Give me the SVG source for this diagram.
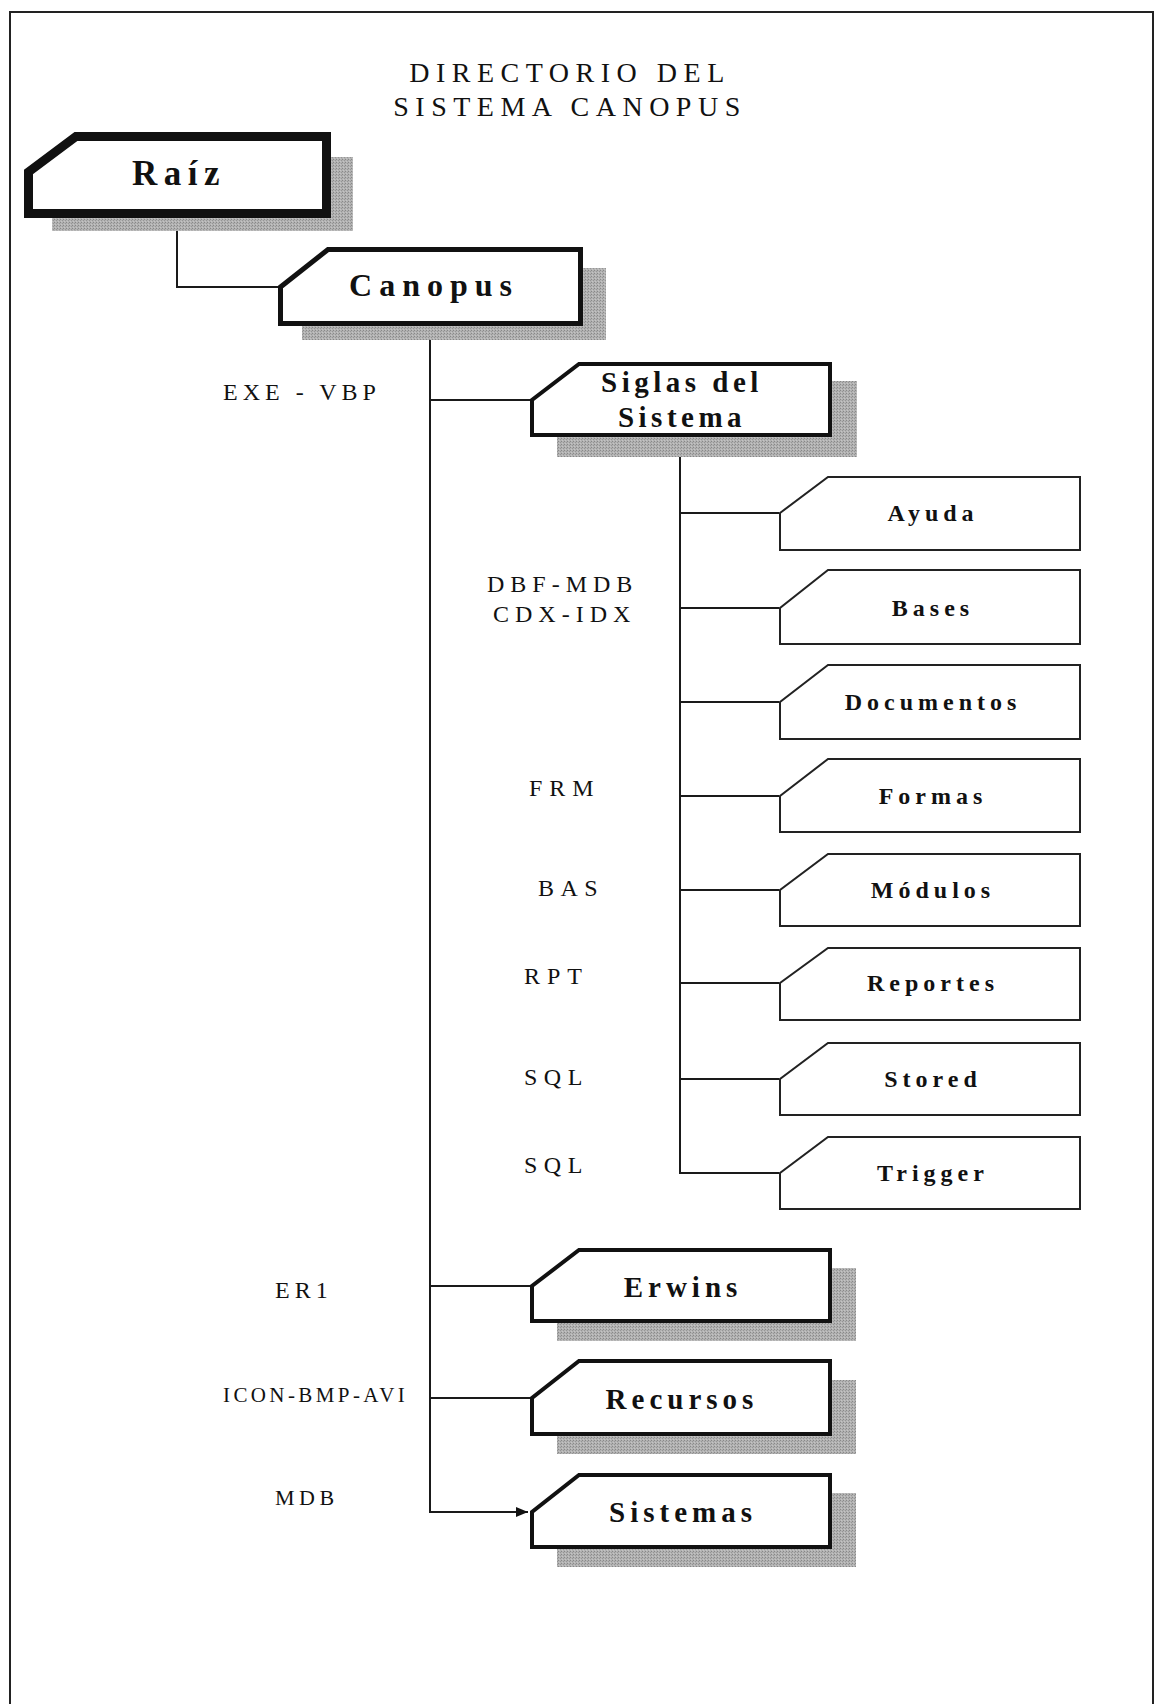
<svg xmlns="http://www.w3.org/2000/svg" width="1159" height="1704" viewBox="0 0 1159 1704">
<style>
.frame{fill:none;stroke:#222;stroke-width:2}
.shadow{fill:url(#dots)}
.big{fill:#fff;stroke:#111;stroke-width:4;stroke-linejoin:miter}
.small{fill:#fff;stroke:#222;stroke-width:2}
.conn{fill:none;stroke:#1a1a1a;stroke-width:2}
.lbl{font-family:"Liberation Serif","Times New Roman",serif;font-weight:bold;fill:#111;text-anchor:middle}
.side{font-family:"Liberation Serif","Times New Roman",serif;fill:#111}
.title{font-family:"Liberation Serif","Times New Roman",serif;fill:#111;font-size:28px;letter-spacing:6.5px;text-anchor:middle}
.sl{font-size:24px;letter-spacing:5px}
.bl{font-size:29px;letter-spacing:5px}
</style>
<defs>
<pattern id="dots" width="3" height="3" patternUnits="userSpaceOnUse">
<rect width="3" height="3" fill="#b2b2b2"/>
<rect x="0" y="0" width="1" height="1" fill="#888"/>
<rect x="2" y="1" width="1" height="1" fill="#969696"/>
<rect x="1" y="2" width="1" height="1" fill="#c4c4c4"/>
</pattern>
<marker id="arr" markerWidth="12" markerHeight="10" refX="12" refY="5" orient="auto" markerUnits="userSpaceOnUse">
<path d="M0,0 L12,5 L0,10 Z" fill="#111"/>
</marker>
</defs>
<rect width="1159" height="1704" fill="#fff"/>
<path class="frame" d="M10,1704 L10,12 L1153,12 L1153,1704"/>
<g id="title">
<text class="title" x="570" y="82">DIRECTORIO DEL</text>
<text class="title" x="570" y="116">SISTEMA CANOPUS</text>
</g>
<g id="connectors">
<path class="conn" d="M177,218 L177,287 L278,287"/>
<path class="conn" d="M430,326 L430,1512 L528,1512" marker-end="url(#arr)"/>
<path class="conn" d="M430,400 L530,400"/>
<path class="conn" d="M430,1286 L530,1286"/>
<path class="conn" d="M430,1398 L530,1398"/>
<path class="conn" d="M680,437 L680,1173 L779,1173"/>
<path class="conn" d="M680,513 L779,513"/>
<path class="conn" d="M680,608 L779,608"/>
<path class="conn" d="M680,702 L779,702"/>
<path class="conn" d="M680,796 L779,796"/>
<path class="conn" d="M680,890 L779,890"/>
<path class="conn" d="M680,983 L779,983"/>
<path class="conn" d="M680,1079 L779,1079"/>
</g>
<g id="labels">
<text class="side" x="223" y="400" style="font-size:24px;letter-spacing:5px">EXE - VBP</text>
<text class="side" x="487" y="592" style="font-size:24px;letter-spacing:6px">DBF-MDB</text>
<text class="side" x="493" y="622" style="font-size:24px;letter-spacing:6px">CDX-IDX</text>
<text class="side" x="529" y="796" style="font-size:24px;letter-spacing:7px">FRM</text>
<text class="side" x="538" y="896" style="font-size:24px;letter-spacing:6.5px">BAS</text>
<text class="side" x="524" y="984" style="font-size:24px;letter-spacing:7px">RPT</text>
<text class="side" x="524" y="1085" style="font-size:24px;letter-spacing:6.5px">SQL</text>
<text class="side" x="524" y="1173" style="font-size:24px;letter-spacing:6.5px">SQL</text>
<text class="side" x="275" y="1298" style="font-size:24px;letter-spacing:5px">ER1</text>
<text class="side" x="223" y="1402" style="font-size:21px;letter-spacing:3.4px">ICON-BMP-AVI</text>
<text class="side" x="275" y="1505" style="font-size:22px;letter-spacing:4.5px">MDB</text>
</g>
<g id="raiz">
<rect class="shadow" x="52" y="157" width="301" height="74"/>
<path d="M76,136.5 L326.5,136.5 L326.5,213.5 L28.5,213.5 L28.5,172 Z" fill="#fff" stroke="#111" stroke-width="9"/>
<text class="lbl" x="179" y="185" font-size="35" letter-spacing="6.5">Raíz</text>
</g>
<g id="canopus">
<rect class="shadow" x="302" y="268" width="304" height="72"/>
<path d="M328,249.5 L580.5,249.5 L580.5,323.5 L280.5,323.5 L280.5,287 Z" fill="#fff" stroke="#111" stroke-width="5"/>
<text class="lbl" x="434" y="296" font-size="32" letter-spacing="7">Canopus</text>
</g>
<g id="siglas">
<rect class="shadow" x="557" y="381" width="300" height="76"/>
<path class="big" d="M579,364 L830,364 L830,435 L532,435 L532,400 Z"/>
<text class="lbl" x="682" y="392" font-size="29" letter-spacing="4.5">Siglas del</text>
<text class="lbl" x="682" y="427" font-size="29" letter-spacing="4.5">Sistema</text>
</g>
<g id="ayuda">
<path class="small" d="M828,477 L1080,477 L1080,550 L780,550 L780,513 Z"/>
<text class="lbl sl" x="933" y="521">Ayuda</text>
</g>
<g id="bases">
<path class="small" d="M828,570 L1080,570 L1080,644 L780,644 L780,608 Z"/>
<text class="lbl sl" x="933" y="616">Bases</text>
</g>
<g id="documentos">
<path class="small" d="M828,665 L1080,665 L1080,739 L780,739 L780,702 Z"/>
<text class="lbl sl" x="933" y="710">Documentos</text>
</g>
<g id="formas">
<path class="small" d="M828,759 L1080,759 L1080,832 L780,832 L780,796 Z"/>
<text class="lbl sl" x="933" y="804">Formas</text>
</g>
<g id="modulos">
<path class="small" d="M828,854 L1080,854 L1080,926 L780,926 L780,890 Z"/>
<text class="lbl sl" x="933" y="898">Módulos</text>
</g>
<g id="reportes">
<path class="small" d="M828,948 L1080,948 L1080,1020 L780,1020 L780,983 Z"/>
<text class="lbl sl" x="933" y="991">Reportes</text>
</g>
<g id="stored">
<path class="small" d="M828,1043 L1080,1043 L1080,1115 L780,1115 L780,1079 Z"/>
<text class="lbl sl" x="933" y="1087">Stored</text>
</g>
<g id="trigger">
<path class="small" d="M828,1137 L1080,1137 L1080,1209 L780,1209 L780,1173 Z"/>
<text class="lbl sl" x="933" y="1181">Trigger</text>
</g>
<g id="erwins">
<rect class="shadow" x="557" y="1268" width="299" height="73"/>
<path class="big" d="M579,1250 L830,1250 L830,1321 L532,1321 L532,1286 Z"/>
<text class="lbl bl" x="683" y="1297">Erwins</text>
</g>
<g id="recursos">
<rect class="shadow" x="557" y="1380" width="299" height="74"/>
<path class="big" d="M579,1361 L830,1361 L830,1434 L532,1434 L532,1398 Z"/>
<text class="lbl bl" x="682" y="1409">Recursos</text>
</g>
<g id="sistemas">
<rect class="shadow" x="557" y="1493" width="299" height="74"/>
<path class="big" d="M579,1475 L830,1475 L830,1547 L532,1547 L532,1512 Z"/>
<text class="lbl bl" x="683" y="1522">Sistemas</text>
</g>
</svg>
